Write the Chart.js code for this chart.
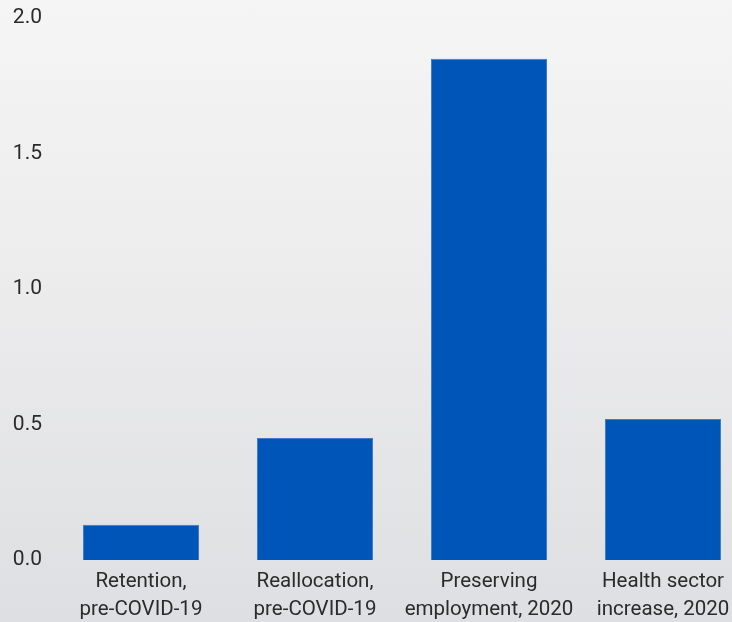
<!DOCTYPE html>
<html>
<head>
<meta charset="utf-8">
<script src="https://cdn.jsdelivr.net/npm/chart.js@4/dist/chart.umd.min.js"></script>
<style>
  html, body { margin: 0; padding: 0; overflow: hidden; }
  body {
    width: 732px; height: 622px;
    background: linear-gradient(to bottom, #f5f5f5 0%, #ececed 45%, #dedfe2 100%);
  }
  #wrap { position: relative; width: 752px; height: 622px; }
</style>
</head>
<body>
<div id="wrap"><canvas id="chart" width="752" height="622"></canvas></div>
<script>
// categories (two-line labels)
const categories = [
  ['Retention,', 'pre-COVID-19'],
  ['Reallocation,', 'pre-COVID-19'],
  ['Preserving', 'employment, 2020'],
  ['Health sector', 'increase, 2020']
];
// bar values
const values = [0.13, 0.45, 1.85, 0.52];
// y axis ticks
const yMin = 0;
const yMax = 2.0;
const yStep = 0.5;

const fontFamily = 'Roboto, "Liberation Sans", sans-serif';

const ctx = document.getElementById('chart');
new Chart(ctx, {
  type: 'bar',
  data: {
    labels: categories,
    datasets: [{
      data: values,
      backgroundColor: '#0055b8',
      borderColor: '#3f7bc9',
      borderWidth: 1,
      barPercentage: 0.667,
      categoryPercentage: 1.0
    }]
  },
  options: {
    responsive: false,
    animation: false,
    layout: { padding: { top: 18, right: 2, bottom: 0, left: 0 } },
    plugins: {
      legend: { display: false },
      tooltip: { enabled: false }
    },
    scales: {
      x: {
        grid: { display: false, drawTicks: false },
        border: { display: false },
        ticks: {
          color: '#2b2b2b',
          font: { family: fontFamily, size: 20.5, lineHeight: 1.37 },
          maxRotation: 0,
          autoSkip: false,
          padding: 8
        },
        afterFit: axis => { axis.height = 62; }
      },
      y: {
        min: yMin,
        max: yMax,
        grid: { display: false, drawTicks: false },
        border: { display: false },
        ticks: {
          stepSize: yStep,
          color: '#2b2b2b',
          font: { family: fontFamily, size: 21 },
          padding: 12,
          callback: v => v.toFixed(1)
        },
        afterFit: axis => {
          axis.width = 54;
          axis.paddingTop = 0;
          axis.paddingBottom = 0;
        }
      }
    }
  }
});
</script>
</body>
</html>
